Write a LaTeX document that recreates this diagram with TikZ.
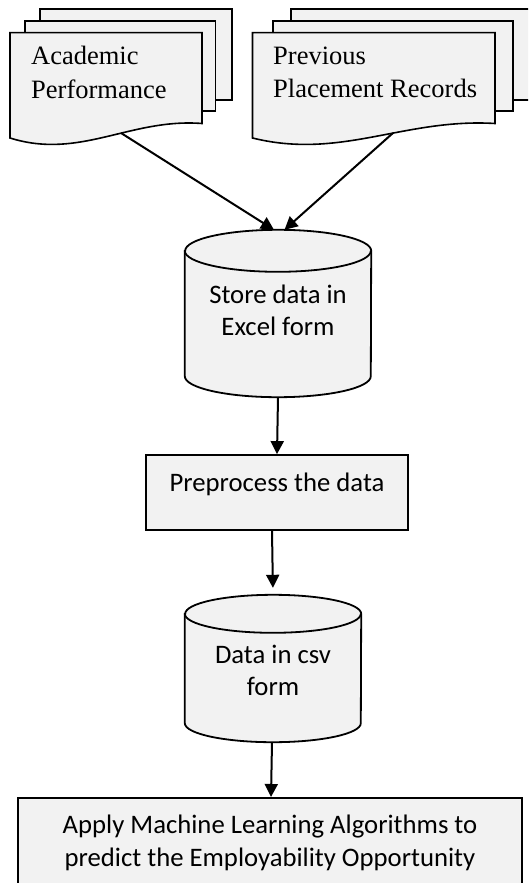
\documentclass[tikz,border=0pt]{standalone}
\usepackage{fontspec}
\setmainfont{Carlito}
\newfontfamily\tnr{Liberation Serif}
\usetikzlibrary{arrows.meta}
\definecolor{boxfill}{HTML}{F2F2F2}
\tikzset{
  sheet/.style={draw=black, fill=boxfill, line width=1.6pt, line join=miter},
  cyl/.style={draw=black, fill=boxfill, line width=1.8pt},
  procbox/.style={draw=black, fill=boxfill, line width=1.8pt, inner sep=0pt},
  txt/.style={font=\fontsize{26.7}{32.5}\selectfont, align=center, inner sep=0pt},
  doctxt/.style={font=\tnr\fontsize{26.5}{33.5}\selectfont, align=left, inner sep=0pt, anchor=west},
  conn/.style={line width=2pt, -{Triangle[length=13pt,width=13pt]}},
}
\begin{document}
\begin{tikzpicture}[x=1pt,y=-1pt]
\useasboundingbox (0,0) rectangle (528,883);
\clip (0,0) rectangle (528,883);
% left document stack
\draw[sheet] (40,9) rectangle (232,100);
\draw[sheet] (25,21) rectangle (215.5,111);
\draw[sheet] (10,32.7) -- (202,32.7) -- (202,123.5)
  .. controls (130,118) and (80,160) .. (10,138) -- cycle;
\node[doctxt] (acad) at (31,72.5) {Academic\\Performance};
\coordinate (acadout) at (121,133);
% right document stack
\draw[sheet] (291,9) rectangle (540,100);
\draw[sheet] (273,21) rectangle (513,111);
\draw[sheet] (252.5,32.7) -- (495,32.7) -- (495,123.5)
  .. controls (404,118) and (341,160) .. (252.5,138) -- cycle;
\node[doctxt] (prev) at (273,72.5) {Previous\\Placement Records};
\coordinate (prevout) at (393,133);
% cylinder 1
\node[minimum width=186pt, minimum height=167pt, inner sep=0pt] (c1) at (278,313.5) {};
\draw[cyl] ([yshift=-21pt]c1.north west) -- ([yshift=21pt]c1.south west)
  arc[start angle=180, end angle=360, x radius=93pt, y radius=21pt]
  -- ([yshift=-21pt]c1.north east)
  arc[start angle=0, end angle=180, x radius=93pt, y radius=21pt] -- cycle;
\draw[cyl, fill=none] ([yshift=-21pt]c1.north west)
  arc[start angle=180, end angle=360, x radius=93pt, y radius=21pt];
\node[txt] (store) at (278,310.5) {Store data in\\Excel form};
% preprocess box
\node[procbox, minimum width=262pt, minimum height=75pt] (pre) at (277,492.5) {};
\node[txt] (pretxt) at (277,484) {Preprocess the data};
% cylinder 2
\node[minimum width=176pt, minimum height=147pt, inner sep=0pt] (c2) at (273,668.5) {};
\draw[cyl] ([yshift=-19pt]c2.north west) -- ([yshift=19pt]c2.south west)
  arc[start angle=180, end angle=360, x radius=88pt, y radius=19pt]
  -- ([yshift=-19pt]c2.north east)
  arc[start angle=0, end angle=180, x radius=88pt, y radius=19pt] -- cycle;
\draw[cyl, fill=none] ([yshift=-19pt]c2.north west)
  arc[start angle=180, end angle=360, x radius=88pt, y radius=19pt];
\node[txt] (csv) at (273,670.5) {Data in csv\\form};
% bottom box
\node[procbox, minimum width=504pt, minimum height=110pt, anchor=north] (ml) at (270,797) {};
\node[txt] (mltxt) at (270,843) {Apply Machine Learning Algorithms to\\predict the Employability Opportunity};
% connectors
\draw[conn] (acadout) -- ([xshift=-4pt]c1.north);
\draw[conn] (prevout) -- ([xshift=6.5pt]c1.north);
\draw[conn] (c1.south) -- (pre.north);
\draw[conn, shorten >=7pt] ([xshift=-5pt]pre.south) -- (c2.north);
\draw[conn] ([xshift=-1pt]c2.south) -- ([xshift=1pt]ml.north);
\end{tikzpicture}
\end{document}
